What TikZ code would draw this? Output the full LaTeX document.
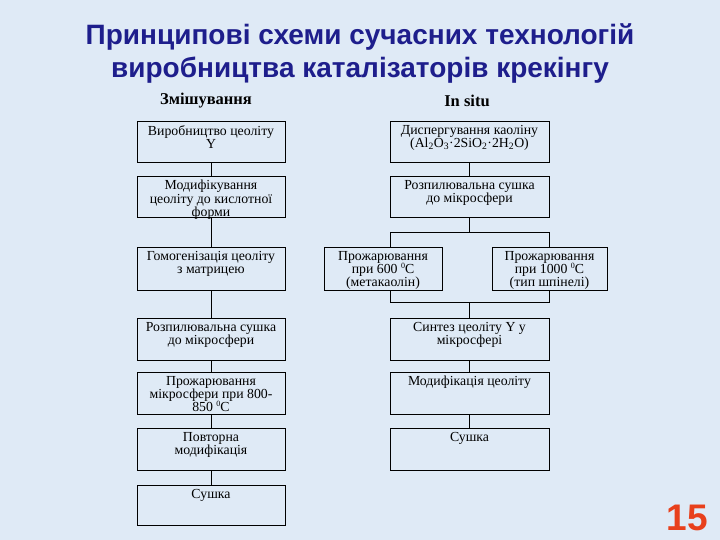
\documentclass[tikz,border=0pt]{standalone}
\usepackage{fontspec}
\setmainfont{Liberation Serif}
\newfontfamily\titlefont{Liberation Sans}
\definecolor{bgblue}{RGB}{223,234,246}
\definecolor{titleblue}{RGB}{30,30,140}
\definecolor{numred}{RGB}{232,64,28}
\newcommand\degz{\smash{\raisebox{0.75ex}{\fontsize{8}{8}\selectfont 0}}}
\begin{document}
\begin{tikzpicture}[x=1pt,y=-1pt,
  box/.style={draw=black,line width=0.8pt,minimum width=#1,inner sep=0pt},
  box/.default=148,
  btext/.style={below,inner sep=0pt,yshift=-4.5pt,align=center,font=\fontsize{13.8}{13.2}\selectfont},
  conn/.style={draw=black,line width=0.8pt},
  head/.style={font=\fontsize{16.5}{18}\selectfont\bfseries}]
\fill[bgblue] (0,0) rectangle (720,540);
\useasboundingbox (0,0) rectangle (720,540);
\node[font=\titlefont\fontsize{28}{33}\selectfont\bfseries,text=titleblue,align=center] (title) at (360,53)
  {Принципові схеми сучасних технологій\\виробництва каталізаторів крекінгу};
\node[head] (h1) at (206,101) {Змішування};
\node[head] (h2) at (467,101) {In situ};
% left column
\node[box,minimum height=41] (l1) at (211,141.5) {};
\node[btext] (t-l1) at (l1.north) {Виробництво цеоліту\\Y};
\node[box,minimum height=41] (l2) at (211,196.5) {};
\node[btext] (t-l2) at (l2.north) {Модифікування\\цеоліту до кислотної\\форми};
\node[box,minimum height=43] (l3) at (211,268.5) {};
\node[btext] (t-l3) at (l3.north) {Гомогенізація цеоліту\\з матрицею};
\node[box,minimum height=42] (l4) at (211,339) {};
\node[btext] (t-l4) at (l4.north) {Розпилювальна сушка\\до мікросфери};
\node[box,minimum height=42] (l5) at (211,393) {};
\node[btext] (t-l5) at (l5.north) {Прожарювання\\мікросфери при 800-\\850 \degz C};
\node[box,minimum height=42] (l6) at (211,449) {};
\node[btext] (t-l6) at (l6.north) {Повторна\\модифікація};
\node[box,minimum height=40] (l7) at (211,505) {};
\node[btext] (t-l7) at (l7.north) {Сушка};
\foreach \a/\b in {l1/l2,l2/l3,l3/l4,l4/l5,l5/l6,l6/l7}
  \draw[conn] (\a.south) -- (\b.north);
% right column
\node[box=159,minimum height=41] (r1) at (469.5,141.5) {};
\node[btext] (t-r1) at (r1.north) {Диспергування каоліну\\(Al\textsubscript{2}O\textsubscript{3}·2SiO\textsubscript{2}·2H\textsubscript{2}O)};
\node[box=159,minimum height=41] (r2) at (469.5,196.5) {};
\node[btext] (t-r2) at (r2.north) {Розпилювальна сушка\\до мікросфери};
\node[box=118,minimum height=43] (r3a) at (383,268.5) {};
\node[btext] (t-r3a) at (r3a.north) {Прожарювання\\при 600 \degz C\\(метакаолін)};
\node[box=115,minimum height=43] (r3b) at (549.5,268.5) {};
\node[btext] (t-r3b) at (r3b.north) {Прожарювання\\при 1000 \degz C\\(тип шпінелі)};
\node[box=159,minimum height=42] (r4) at (469.5,339) {};
\node[btext] (t-r4) at (r4.north) {Синтез цеоліту Y у\\мікросфері};
\node[box=159,minimum height=42] (r5) at (469.5,393) {};
\node[btext] (t-r5) at (r5.north) {Модифікація цеоліту};
\node[box=159,minimum height=42] (r6) at (469.5,449) {};
\node[btext] (t-r6) at (r6.north) {Сушка};
\draw[conn] (r1.south) -- (r2.north);
\coordinate (jl) at (390,232);
\coordinate (jr) at (549,232);
\coordinate (kl) at (390,302);
\coordinate (kr) at (549,302);
\draw[conn] (r2.south) -- (r2.south |- jl);
\draw[conn] (jl |- r3a.north) -- (jl) -- (jr) -- (jr |- r3b.north);
\draw[conn] (kl |- r3a.south) -- (kl) -- (kr) -- (kr |- r3b.south);
\draw[conn] (r4.north |- kl) -- (r4.north);
\draw[conn] (r4.south) -- (r5.north);
\draw[conn] (r5.south) -- (r6.north);
% page number
\node[font=\titlefont\fontsize{37}{40}\selectfont\bfseries,text=numred] (num) at (687,518) {15};
\end{tikzpicture}
\end{document}
